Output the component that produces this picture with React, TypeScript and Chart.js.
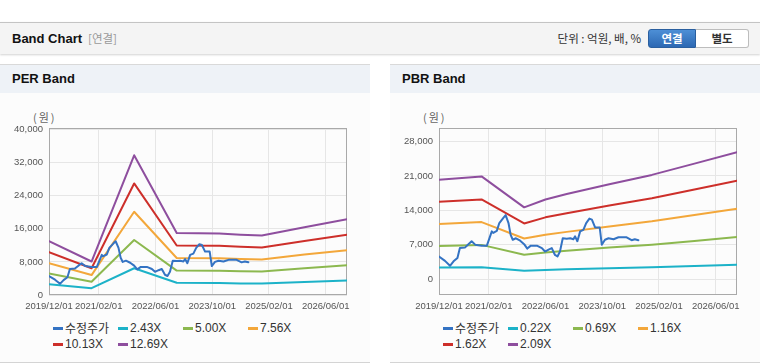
import React, { useEffect, useRef } from 'react';
import { Chart, registerables } from 'chart.js';

Chart.register(...registerables);

// ---------------- data ----------------
const xTickLabels = ['2019/12/01', '2021/02/01', '2022/06/01', '2023/10/01', '2025/02/01', '2026/06/01'];
const xFirstDate = '2019/12/01';
const xLastDate = '2026/12/01';

const priceLabel = '수정주가';
const priceDates = [
  '2019/12/01', '2020/01/22', '2020/03/04', '2020/04/04', '2020/05/07', '2020/05/28', '2020/07/10',
  '2020/08/10', '2020/09/07', '2020/10/07', '2020/12/01', '2021/01/16', '2021/02/28', '2021/03/10',
  '2021/04/10', '2021/05/01', '2021/06/07', '2021/06/25', '2021/07/19', '2021/08/07', '2021/08/25',
  '2021/09/22', '2021/10/28', '2021/12/01', '2021/12/28', '2022/01/28', '2022/03/19', '2022/05/01',
  '2022/05/28', '2022/06/28', '2022/07/25', '2022/08/22', '2022/09/13', '2022/10/04', '2022/10/28',
  '2022/12/01', '2023/01/01', '2023/01/28', '2023/02/12', '2023/03/01', '2023/03/25', '2023/04/22',
  '2023/05/16', '2023/06/13', '2023/07/04', '2023/08/01', '2023/09/10', '2023/09/28', '2023/10/25',
  '2023/11/25', '2024/01/07', '2024/02/19', '2024/04/28', '2024/06/10', '2024/07/07', '2024/08/07',
];
const priceValues = [
  4600, 3700, 2700, 3600, 4300, 6300, 6400,
  7100, 7700, 7000, 6800, 6800, 9700, 9400,
  9800, 11400, 12500, 13000, 11400, 9000, 8000,
  8300, 7800, 7100, 6200, 6800, 6800, 6300,
  5600, 6000, 6300, 4900, 4600, 5600, 8300,
  8200, 8300, 8100, 8700, 7700, 9700, 10000,
  11400, 12300, 12100, 10500, 10500, 7000, 8000,
  8300, 8100, 8500, 8500, 7900, 8100, 7900,
];

const perBandLabels = ['2.43X', '5.00X', '7.56X', '10.13X', '12.69X'];
const perBandDates = ['2019/12/01', '2020/12/01', '2021/12/01', '2022/12/01', '2023/12/01', '2024/06/01', '2024/12/01', '2025/12/01', '2026/12/01'];
const perBand243 = [2600, 1650, 6470, 2950, 2900, 2790, 2760, 3140, 3500];
const perBand500 = [5200, 3190, 13320, 5910, 5870, 5750, 5680, 6460, 7210];
const perBand756 = [7700, 4820, 20140, 8940, 8880, 8690, 8580, 9770, 10850];
const perBand1013 = [10370, 6460, 26990, 11970, 11890, 11650, 11500, 13090, 14550];
const perBand1269 = [13000, 8100, 33800, 15000, 14900, 14600, 14400, 16400, 18300];
const perYTicks = [0, 8000, 16000, 24000, 32000, 40000];

const pbrBandLabels = ['0.22X', '0.69X', '1.16X', '1.62X', '2.09X'];
const pbrBandDates = ['2019/12/01', '2020/12/01', '2021/12/01', '2022/06/01', '2022/12/01', '2023/12/01', '2024/12/01', '2025/12/01', '2026/12/01'];
const pbrBand022 = [2350, 2400, 1700, 1850, 1970, 2200, 2420, 2670, 2900];
const pbrBand069 = [6750, 6950, 4950, 5400, 5750, 6400, 7000, 7760, 8550];
const pbrBand116 = [11220, 11600, 8250, 9000, 9600, 10710, 11760, 13040, 14320];
const pbrBand162 = [15750, 16200, 11320, 12560, 13410, 14950, 16430, 18210, 19990];
const pbrBand209 = [20200, 20900, 14600, 16200, 17300, 19300, 21200, 23500, 25800];
const pbrYTicks = [0, 7000, 14000, 21000, 28000];

// ---------------- styles ----------------
const priceColor = '#3473c3';
const bandColors = ['#1cb2c8', '#8cb84f', '#f3a73a', '#cd2f2a', '#8e4e9e'];
const gridColor = '#e6e6e6';
const frameColor = '#a9a9a9';
const tickColor = '#555555';
const latin = "'Liberation Sans', 'Noto Sans CJK KR', sans-serif";
const korean = "'Noto Sans CJK KR', 'Liberation Sans', sans-serif";

function monthIndex(s: string): number {
  const [y, m, d] = s.split('/').map(Number);
  return (y - 2019) * 12 + (m - 12) + (d - 1) / 30.44;
}

const framePlugin = {
  id: 'frame',
  beforeDatasetsDraw(chart: any) {
    const { ctx, chartArea: a } = chart;
    ctx.save();
    ctx.strokeStyle = frameColor;
    ctx.lineWidth = 1;
    const l = Math.round(a.left) + 0.5;
    const t = Math.round(a.top) + 0.5;
    const r = Math.round(a.right) - 0.5;
    const b = Math.round(a.bottom) - 0.5;
    ctx.strokeRect(l, t, r - l, b - t);
    ctx.restore();
  },
};

type ChartProps = {
  bandLabels: string[];
  bandDates: string[];
  bandSeries: number[][];
  yMin: number;
  yMax: number;
  yTicks: number[];
};

function BandCanvas({ bandLabels, bandDates, bandSeries, yMin, yMax, yTicks }: ChartProps) {
  const ref = useRef<HTMLCanvasElement>(null);
  useEffect(() => {
    const canvas = ref.current;
    if (!canvas) return;
    const datasets: any[] = [
      {
        label: priceLabel,
        data: priceDates.map((d, i) => ({ x: monthIndex(d), y: priceValues[i] })),
        borderColor: priceColor,
        backgroundColor: priceColor,
      },
      ...bandSeries.map((vals, k) => ({
        label: bandLabels[k],
        data: bandDates.map((d, i) => ({ x: monthIndex(d), y: vals[i] })),
        borderColor: bandColors[k],
        backgroundColor: bandColors[k],
      })),
    ];
    const chart = new Chart(canvas, {
      type: 'line',
      data: { datasets },
      options: {
        animation: false,
        responsive: false,
        devicePixelRatio: 1,
        layout: { padding: { top: 28, right: 23, left: 0, bottom: 0 } },
        plugins: { legend: { display: false }, tooltip: { enabled: false } },
        elements: {
          point: { radius: 0, hoverRadius: 0 },
          line: { borderWidth: 2, tension: 0, borderJoinStyle: 'round', borderCapStyle: 'round' },
        },
        scales: {
          x: {
            type: 'linear',
            min: monthIndex(xFirstDate),
            max: monthIndex(xLastDate),
            afterBuildTicks: (s: any) => {
              s.ticks = xTickLabels.map((l) => ({ value: monthIndex(l) }));
            },
            afterFit: (s: any) => {
              s.height = 20;
            },
            ticks: {
              autoSkip: false,
              maxRotation: 0,
              padding: 6,
              color: tickColor,
              font: { family: latin, size: 9.5 },
              callback: (_v: any, i: number) => xTickLabels[i],
            },
            grid: { color: gridColor, drawTicks: false },
            border: { display: false },
          },
          y: {
            type: 'linear',
            min: yMin,
            max: yMax,
            afterBuildTicks: (s: any) => {
              s.ticks = yTicks.map((v) => ({ value: v }));
            },
            afterFit: (s: any) => {
              s.width = 49;
            },
            ticks: {
              padding: 6,
              color: tickColor,
              font: { family: latin, size: 9.5 },
              callback: (v: any) => Number(v).toLocaleString('en-US'),
            },
            grid: { color: gridColor, drawTicks: false },
            border: { display: false },
          },
        },
      } as any,
      plugins: [framePlugin],
    });
    return () => chart.destroy();
  }, []);
  return (
    <canvas
      ref={ref}
      width={370}
      height={215}
      style={{ position: 'absolute', left: 0, top: 100, width: 370, height: 215 }}
    />
  );
}

function Legend({ labels, colors }: { labels: string[]; colors: string[] }) {
  return (
    <div
      style={{
        position: 'absolute',
        left: 53,
        top: 320,
        display: 'grid',
        gridTemplateColumns: 'repeat(4, 65px)',
        gridAutoRows: '16px',
      }}
    >
      {labels.map((l, i) => (
        <div key={l} style={{ display: 'flex', alignItems: 'center', whiteSpace: 'nowrap' }}>
          <span style={{ display: 'inline-block', width: 10, height: 3, background: colors[i], marginRight: 2 }} />
          <span style={{ fontFamily: i === 0 ? korean : latin, fontSize: 12, color: '#333', lineHeight: '16px' }}>{l}</span>
        </div>
      ))}
    </div>
  );
}

function Panel({ left, title, chart, legendLabels }: { left: number; title: string; chart: ChartProps; legendLabels: string[] }) {
  return (
    <div style={{ position: 'absolute', left, top: 0, width: 370, height: 364 }}>
      <div
        style={{
          position: 'absolute',
          left: 0,
          top: 64,
          width: 370,
          height: 28,
          background: '#eef2f7',
          borderTop: '1px solid #d9d9d9',
        }}
      >
        <div
          style={{
            position: 'absolute',
            left: 12,
            top: 0,
            lineHeight: '28px',
            fontFamily: latin,
            fontWeight: 'bold',
            fontSize: 13,
            color: '#111',
          }}
        >
          {title}
        </div>
      </div>
      <div
        style={{
          position: 'absolute',
          left: 0,
          top: 93,
          width: 370,
          height: 269,
          background: '#fcfcfc',
          borderBottom: '1px solid #d4d4d4',
        }}
      />
      <div
        style={{
          position: 'absolute',
          left: 33,
          top: 110,
          fontFamily: korean,
          fontSize: 11,
          color: '#666',
          lineHeight: '14px',
          letterSpacing: 2,
          whiteSpace: 'nowrap',
        }}
      >
        (원)
      </div>
      <BandCanvas {...chart} />
      <Legend labels={legendLabels} colors={[priceColor, ...bandColors]} />
    </div>
  );
}

export default function App() {
  const perChart: ChartProps = {
    bandLabels: perBandLabels,
    bandDates: perBandDates,
    bandSeries: [perBand243, perBand500, perBand756, perBand1013, perBand1269],
    yMin: 0,
    yMax: 40400,
    yTicks: perYTicks,
  };
  const pbrChart: ChartProps = {
    bandLabels: pbrBandLabels,
    bandDates: pbrBandDates,
    bandSeries: [pbrBand022, pbrBand069, pbrBand116, pbrBand162, pbrBand209],
    yMin: -3250,
    yMax: 30750,
    yTicks: pbrYTicks,
  };
  return (
    <div style={{ position: 'absolute', left: 0, top: 0, width: 760, height: 364, background: '#fff', overflow: 'hidden' }}>
      <div
        style={{
          position: 'absolute',
          left: 0,
          top: 22,
          width: 760,
          height: 31,
          background: '#f4f4f4',
          borderTop: '1px solid #c4c4c4',
          boxShadow: '0 1px 2px rgba(0,0,0,0.18)',
        }}
      >
        <span
          style={{
            position: 'absolute',
            left: 12,
            top: 0,
            lineHeight: '31px',
            fontFamily: latin,
            fontWeight: 'bold',
            fontSize: 13,
            color: '#111',
          }}
        >
          Band Chart
        </span>
        <span
          style={{
            position: 'absolute',
            left: 88,
            top: 0,
            lineHeight: '31px',
            fontFamily: korean,
            fontSize: 11.5,
            color: '#999',
          }}
        >
          [연결]
        </span>
        <span
          style={{
            position: 'absolute',
            right: 119,
            top: 0,
            lineHeight: '31px',
            fontFamily: korean,
            fontSize: 11.5,
            color: '#333',
          }}
        >
          단위 : 억원, 배, %
        </span>
        <div style={{ position: 'absolute', left: 648, top: 6, display: 'flex', height: 19 }}>
          <div
            style={{
              width: 48,
              height: 19,
              background: 'linear-gradient(#4d8fd6, #2c68b3)',
              border: '1px solid #2a5f9f',
              borderRadius: '3px 0 0 3px',
              color: '#fff',
              fontFamily: korean,
              fontWeight: 'bold',
              fontSize: 11.5,
              lineHeight: '17px',
              textAlign: 'center',
              boxSizing: 'border-box',
            }}
          >
            연결
          </div>
          <div
            style={{
              width: 53,
              height: 19,
              background: '#fff',
              border: '1px solid #bdbdbd',
              borderLeft: 'none',
              borderRadius: '0 3px 3px 0',
              color: '#333',
              fontFamily: korean,
              fontWeight: 'bold',
              fontSize: 11.5,
              lineHeight: '17px',
              textAlign: 'center',
              boxSizing: 'border-box',
            }}
          >
            별도
          </div>
        </div>
      </div>
      <Panel left={0} title="PER Band" chart={perChart} legendLabels={[priceLabel, ...perBandLabels]} />
      <Panel left={390} title="PBR Band" chart={pbrChart} legendLabels={[priceLabel, ...pbrBandLabels]} />
    </div>
  );
}
